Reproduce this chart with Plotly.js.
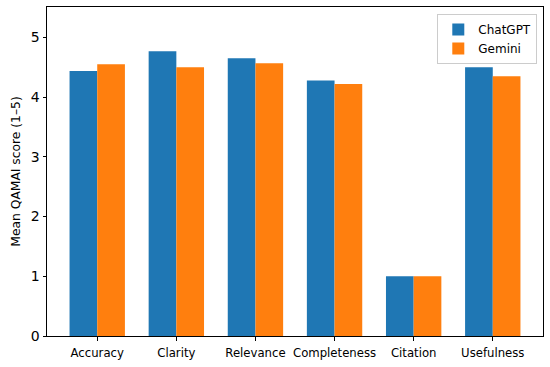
<!DOCTYPE html>
<html>
<head>
<meta charset="utf-8">
<script src="https://cdn.plot.ly/plotly-3.0.1.min.js"></script>
<style>html,body{margin:0;padding:0;background:#fff;}#chart{width:550px;height:367px;}</style>
</head>
<body>
<div id="chart"></div>
<script>
const categories = ["Accuracy", "Clarity", "Relevance", "Completeness", "Citation", "Usefulness"];
const chatgptScores = [4.44, 4.77, 4.65, 4.28, 1.0, 4.50];
const geminiScores = [4.55, 4.50, 4.57, 4.22, 1.0, 4.35];
const seriesNames = ["ChatGPT", "Gemini"];
const yTickVals = [0, 1, 2, 3, 4, 5];

const font = "DejaVu Sans, sans-serif";
const traces = [
  {type: "bar", name: seriesNames[0], x: categories, y: chatgptScores, marker: {color: "#1f77b4", line: {width: 0}}},
  {type: "bar", name: seriesNames[1], x: categories, y: geminiScores, marker: {color: "#ff7f0e", line: {width: 0}}}
];
const layout = {
  width: 550, height: 367,
  margin: {l: 47, r: 7, t: 7, b: 31},
  paper_bgcolor: "#fff", plot_bgcolor: "#fff",
  barmode: "group", bargap: 0.3, bargroupgap: 0,
  font: {family: font, color: "#000"},
  hovermode: false,
  xaxis: {
    type: "category", range: [-0.635, 5.635],
    showgrid: false, zeroline: false,
    showline: true, linecolor: "#000", linewidth: 1, mirror: true,
    ticks: "outside", ticklen: 3.5, tickwidth: 1, tickcolor: "#000",
    ticklabelstandoff: 2,
    tickfont: {family: font, size: 11.7, color: "#000"}
  },
  yaxis: {
    range: [0, 5.51], tickvals: yTickVals, ticktext: yTickVals.map(String),
    showgrid: false, zeroline: false,
    showline: true, linecolor: "#000", linewidth: 1, mirror: true,
    ticks: "outside", ticklen: 3.5, tickwidth: 1, tickcolor: "#000",
    tickfont: {family: font, size: 14, color: "#000"},
    title: {text: "Mean QAMAI score (1–5)", font: {family: font, size: 12.3, color: "#000"}, standoff: 7}
  },
  showlegend: true,
  legend: {
    x: 0.9885, xanchor: "right", y: 0.979, yanchor: "top",
    bgcolor: "rgba(255,255,255,0.8)", bordercolor: "#cccccc", borderwidth: 1,
    font: {family: font, size: 12, color: "#000"},
    tracegroupgap: 0
  }
};
Plotly.newPlot("chart", traces, layout, {displayModeBar: false, staticPlot: true});
</script>
</body>
</html>
